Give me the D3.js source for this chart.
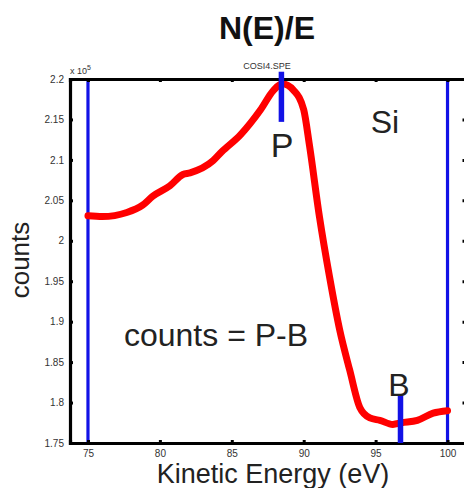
<!doctype html>
<html lang='en'>
<head>
  <meta charset='utf-8'>
  <title>N(E)/E</title>
  <style>
    html, body { margin: 0; padding: 0; background: #fff; }
    svg { display: block; font-family: 'Liberation Sans', Arial, sans-serif; }
    .tick text { fill: #333; }
  </style>
</head>
<body>
  <script src='https://d3js.org/d3.v7.min.js'></script>
  <script>
    // spectrum: kinetic energy (eV) and counts (x 1e5)
    const energy = [75.0, 76.0, 77.7, 78.8, 79.5, 80.7, 81.6, 82.1, 83.7, 84.3, 85.6, 87.0, 87.9, 88.5,
      89.3, 90.0, 90.4, 91.1, 91.8, 92.5, 93.2, 93.9, 94.6, 95.3, 96.2, 96.8, 97.9, 99.0, 100.0]
    const counts = [2.031, 2.030, 2.035, 2.044, 2.055, 2.068, 2.082, 2.084, 2.099, 2.110, 2.131, 2.162, 2.186, 2.194,
      2.186, 2.162, 2.118, 2.029, 1.955, 1.890, 1.840, 1.794, 1.781, 1.778, 1.773, 1.775, 1.778, 1.787, 1.790]

    // window limits (thin blue lines)
    const windowEnergy = [75, 100]

    // P and B markers: energy, bottom, top
    const markerName = ['P', 'B']
    const markerEnergy = [88.45, 96.73]
    const markerLow = [2.147, 1.75]
    const markerHigh = [2.209, 1.809]

    const xTicks = [75, 80, 85, 90, 95, 100]
    const yTicks = [1.75, 1.8, 1.85, 1.9, 1.95, 2, 2.05, 2.1, 2.15, 2.2]

    const width = 464
    const height = 488
    const margin = { top: 79, right: -1.5, bottom: 45, left: 70 }

    const x = d3.scaleLinear().domain([73.75, 101.25]).range([margin.left, width - margin.right])
    const y = d3.scaleLinear().domain([1.75, 2.2]).range([height - margin.bottom, margin.top])

    const svg = d3.select('body').append('svg')
      .attr('width', width)
      .attr('height', height)

    // window lines
    svg.append('g')
      .selectAll('line')
      .data(windowEnergy)
      .join('line')
      .attr('x1', d => x(d)).attr('x2', d => x(d))
      .attr('y1', y(1.75)).attr('y2', y(2.2))
      .attr('stroke', '#1212e6')
      .attr('stroke-width', 3.2)

    // spectrum
    const points = energy.map((e, i) => [e, counts[i]])
    svg.append('path')
      .datum(points)
      .attr('fill', 'none')
      .attr('stroke', '#ff0000')
      .attr('stroke-width', 7)
      .attr('stroke-linejoin', 'round')
      .attr('stroke-linecap', 'round')
      .attr('d', d3.line().x(d => x(d[0])).y(d => y(d[1])).curve(d3.curveMonotoneX))

    // axes
    const fmt = d => String(+d.toFixed(2))

    const gLeft = svg.append('g')
      .attr('transform', `translate(${margin.left},0)`)
      .call(d3.axisLeft(y).tickValues(yTicks).tickSize(-3).tickPadding(6).tickFormat(fmt))

    const gBottom = svg.append('g')
      .attr('transform', `translate(0,${height - margin.bottom})`)
      .call(d3.axisBottom(x).tickValues(xTicks).tickSize(-3).tickPadding(7).tickFormat(fmt))

    const gTop = svg.append('g')
      .attr('transform', `translate(0,${margin.top})`)
      .call(d3.axisTop(x).tickValues(xTicks).tickSize(-3).tickFormat(''))

    const gRight = svg.append('g')
      .attr('transform', `translate(${width - margin.right},0)`)
      .call(d3.axisRight(y).tickValues(yTicks).tickSize(-3).tickFormat(''))

    ;[gLeft, gBottom, gTop, gRight].forEach(g => {
      g.select('.domain').attr('stroke', '#000').attr('stroke-width', 3.2)
      g.selectAll('.tick line').attr('stroke', '#000').attr('stroke-width', 3)
      g.selectAll('.tick text').style('font-size', '10px')
    })
    gLeft.selectAll('.tick').filter(d => d === 2.2).select('line').remove()
    gLeft.selectAll('.tick').filter(d => d === 1.75).select('line').remove()

    // markers
    svg.append('g')
      .selectAll('line')
      .data(markerName)
      .join('line')
      .attr('x1', (d, i) => x(markerEnergy[i])).attr('x2', (d, i) => x(markerEnergy[i]))
      .attr('y1', (d, i) => y(markerLow[i])).attr('y2', (d, i) => y(markerHigh[i]))
      .attr('stroke', '#1212e6')
      .attr('stroke-width', 5.5)

    // texts
    svg.append('text')
      .attr('x', 267).attr('y', 39)
      .attr('text-anchor', 'middle')
      .style('font-size', '32px').style('font-weight', 'bold').style('fill', '#111')
      .text('N(E)/E')

    svg.append('text')
      .attr('x', 267).attr('y', 69)
      .attr('text-anchor', 'middle')
      .style('font-size', '9px').style('fill', '#333')
      .text('COSI4.SPE')

    const mult = svg.append('text')
      .attr('x', 70).attr('y', 74)
      .style('font-size', '9px').style('fill', '#333')
    mult.append('tspan').text('x 10')
    mult.append('tspan').attr('dy', -4).style('font-size', '7px').text('5')

    svg.append('text')
      .attr('x', 385).attr('y', 133)
      .attr('text-anchor', 'middle')
      .style('font-size', '32px').style('fill', '#222')
      .text('Si')

    svg.append('text')
      .attr('x', 282).attr('y', 157)
      .attr('text-anchor', 'middle')
      .style('font-size', '34px').style('fill', '#222')
      .text('P')

    svg.append('text')
      .attr('x', 399).attr('y', 396)
      .attr('text-anchor', 'middle')
      .style('font-size', '32px').style('fill', '#222')
      .text('B')

    svg.append('text')
      .attr('x', 216).attr('y', 346)
      .attr('text-anchor', 'middle')
      .style('font-size', '32px').style('fill', '#222')
      .text('counts = P-B')

    svg.append('text')
      .attr('transform', 'translate(29,260) rotate(-90)')
      .attr('text-anchor', 'middle')
      .style('font-size', '26px').style('fill', '#222')
      .text('counts')

    svg.append('text')
      .attr('x', 273).attr('y', 483)
      .attr('text-anchor', 'middle')
      .style('font-size', '27px').style('fill', '#222')
      .text('Kinetic Energy (eV)')
  </script>
</body>
</html>
